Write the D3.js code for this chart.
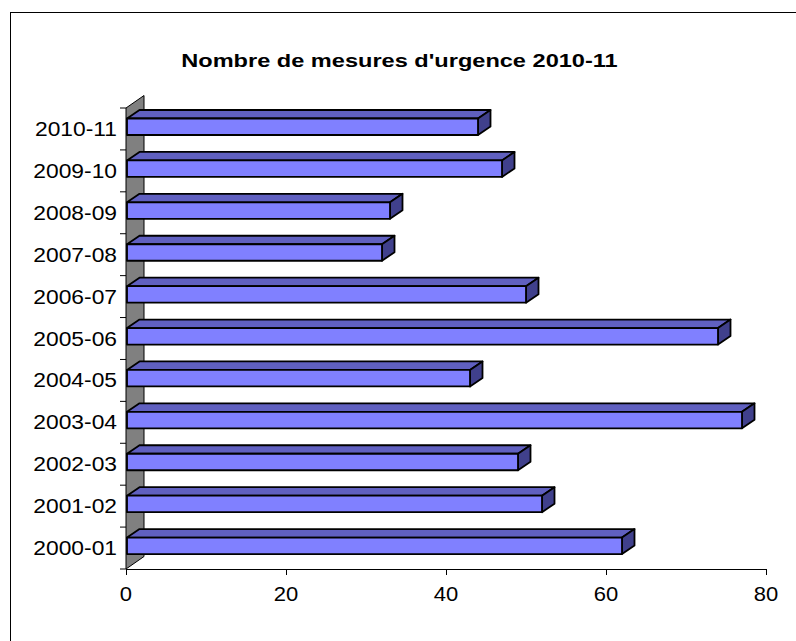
<!DOCTYPE html>
<html>
<head>
<meta charset="utf-8">
<script src="https://cdn.jsdelivr.net/npm/d3@7"></script>
<style>
  body { margin: 0; background: #fff; }
  svg text { font-family: "Liberation Sans", Arial, sans-serif; }
</style>
</head>
<body>
<svg id="chart" width="796" height="641"></svg>
<script>
// data
var categories = ['2000-01', '2001-02', '2002-03', '2003-04', '2004-05', '2005-06',
                  '2006-07', '2007-08', '2008-09', '2009-10', '2010-11'];
var values = [62, 52, 49, 77, 43, 74, 50, 32, 33, 47, 44];
var xTicks = [0, 20, 40, 60, 80];
var title = "Nombre de mesures d'urgence 2010-11";

var svg = d3.select('#chart');

// outer frame (goes past right and bottom of the window)
svg.append('rect')
    .attr('x', 10.5).attr('y', 12.5)
    .attr('width', 800).attr('height', 700)
    .attr('fill', 'none').attr('stroke', '#000').attr('stroke-width', 1);

var x = d3.scaleLinear().domain([0, 80]).range([126, 766]);
var y = d3.scaleBand().domain(categories.slice().reverse()).range([108, 569]);

var dx = 12.5, dy = 8.5;   // bar depth
var wdx = 18, wdy = 12.5;  // wall depth

// Excel text comes out a bit wider than normal
function stretchText(k) {
    return function (sel) {
        sel.each(function () {
            var w = this.getComputedTextLength();
            d3.select(this).attr('textLength', w * k).attr('lengthAdjust', 'spacingAndGlyphs');
        });
    };
}

// title
svg.append('text')
    .attr('x', 399.5).attr('y', 67)
    .attr('text-anchor', 'middle')
    .style('font-size', '19px').style('font-weight', 'bold')
    .text(title)
    .call(stretchText(1.24));

// grey side wall
var y0 = y.range()[0], y1 = y.range()[1];
svg.append('path')
    .attr('d', 'M' + x(0) + ',' + y0 + 'L' + (x(0) + wdx) + ',' + (y0 - wdy) +
        'L' + (x(0) + wdx) + ',' + (y1 - wdy) + 'L' + x(0) + ',' + y1 + 'Z')
    .attr('fill', '#808080').attr('stroke', '#000').attr('stroke-width', 1);

// category ticks on band edges
var edges = categories.map(function (c) { return y(c); }).concat([y1]);
svg.selectAll('.ytick').data(edges).enter().append('line')
    .attr('x1', x(0) - 6).attr('x2', x(0))
    .attr('y1', function (d) { return d; }).attr('y2', function (d) { return d; })
    .attr('stroke', '#000');

// category labels
svg.selectAll('.ylab').data(categories).enter().append('text')
    .attr('x', 117).attr('y', function (d) { return y(d) + y.bandwidth() / 2 + 7; })
    .attr('text-anchor', 'end')
    .style('font-size', '20px')
    .text(function (d) { return d; })
    .call(stretchText(1.14));

// value axis
svg.append('line')
    .attr('x1', x(0)).attr('x2', x(80)).attr('y1', y1 + 0.5).attr('y2', y1 + 0.5)
    .attr('stroke', '#000');
svg.selectAll('.xtick').data(xTicks).enter().append('line')
    .attr('x1', function (d) { return x(d) + 0.5; }).attr('x2', function (d) { return x(d) + 0.5; })
    .attr('y1', y1).attr('y2', y1 + 6)
    .attr('stroke', '#000');
svg.selectAll('.xlab').data(xTicks).enter().append('text')
    .attr('x', function (d) { return x(d); }).attr('y', 601)
    .attr('text-anchor', 'middle')
    .style('font-size', '20px')
    .text(function (d) { return d; })
    .call(stretchText(1.1));

// 3d bars
var bars = svg.selectAll('.bar')
    .data(categories.map(function (c, i) { return { cat: c, v: values[i] }; }))
    .enter().append('g').attr('class', 'bar');

bars.each(function (d) {
    var g = d3.select(this);
    var bx0 = x(0) + 1, bx1 = x(d.v);
    var by = y(d.cat) + 10.5, bh = 16.5;
    g.append('path')
        .attr('d', 'M' + bx0 + ',' + by + 'L' + (bx0 + dx) + ',' + (by - dy) +
            'L' + (bx1 + dx) + ',' + (by - dy) + 'L' + bx1 + ',' + by + 'Z')
        .attr('fill', '#6060C0');
    g.append('path')
        .attr('d', 'M' + bx1 + ',' + by + 'L' + (bx1 + dx) + ',' + (by - dy) +
            'L' + (bx1 + dx) + ',' + (by + bh - dy) + 'L' + bx1 + ',' + (by + bh) + 'Z')
        .attr('fill', '#40408C');
    g.append('rect')
        .attr('x', bx0).attr('y', by).attr('width', bx1 - bx0).attr('height', bh)
        .attr('fill', '#8080FF');
    g.selectAll('path, rect').attr('stroke', '#000').attr('stroke-width', 1.8)
        .attr('stroke-linejoin', 'round');
});
</script>
</body>
</html>
